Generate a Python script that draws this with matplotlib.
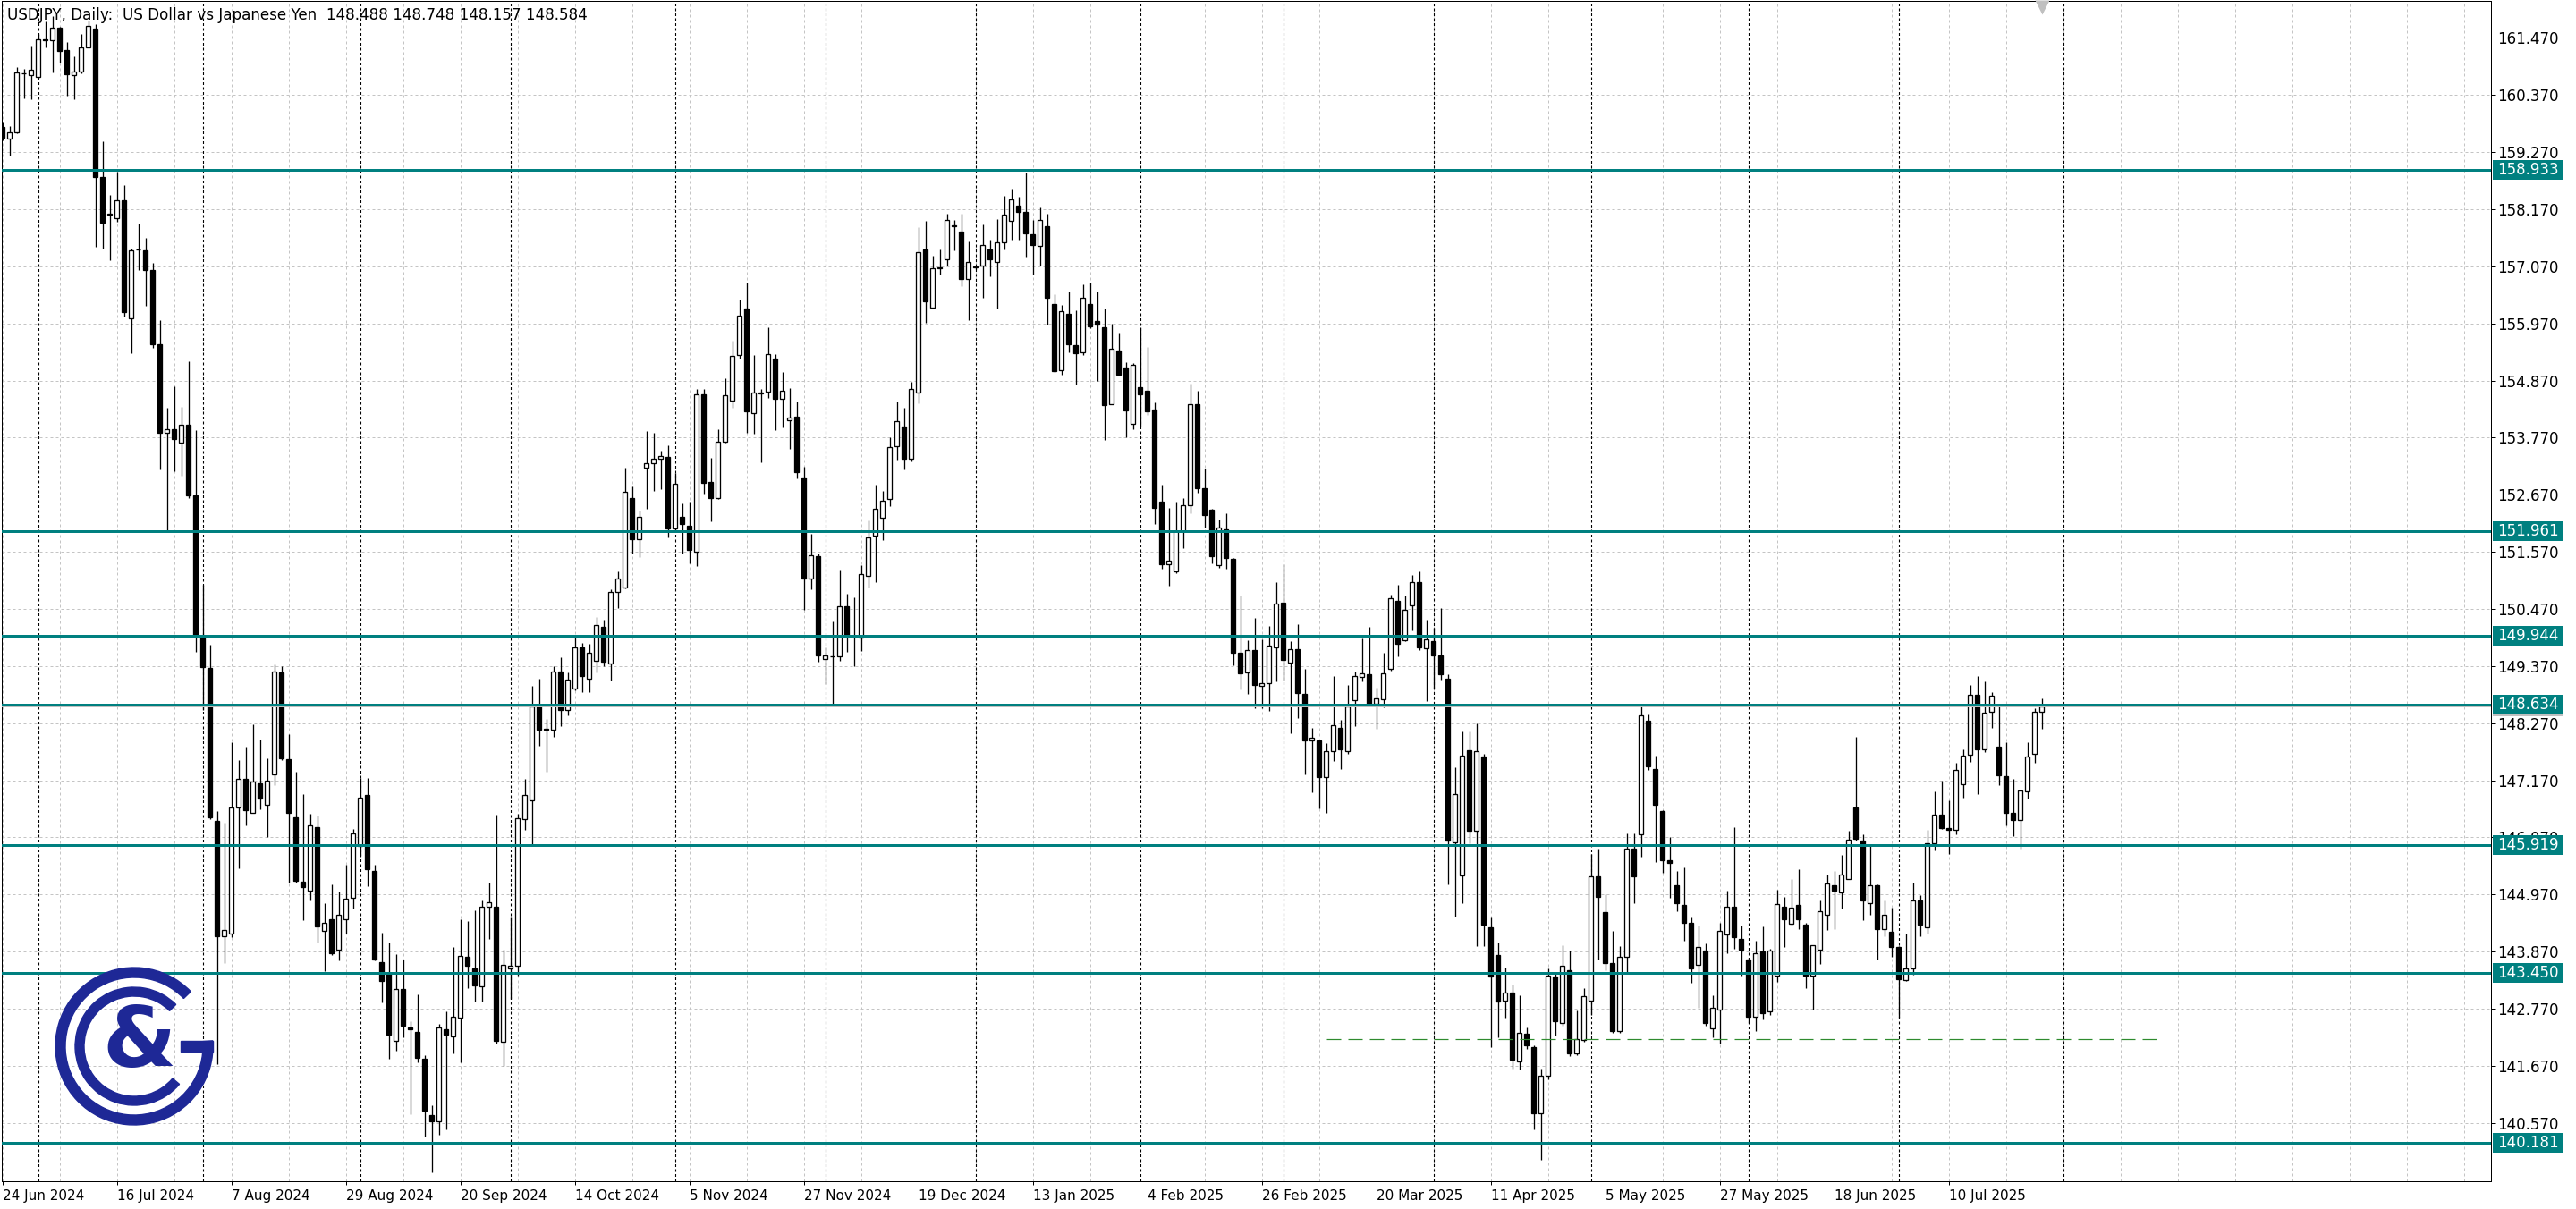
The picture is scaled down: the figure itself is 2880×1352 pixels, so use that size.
#!/usr/bin/env python3
"""
USDJPY daily candles, Jun 2024 - Jul 2025, drawn in the style of a
MetaTrader chart window (right price scale, teal S/R levels, logo).
Writes out.png at 2880x1352.
"""

import numpy as np
import matplotlib
matplotlib.use("Agg")
import matplotlib.pyplot as plt
from matplotlib.patches import Rectangle, Wedge
from matplotlib.transforms import blended_transform_factory

# ---- values (bar 0 = 24 Jun 2024) ----
opens = [
    159.76, 159.53, 159.65, 160.78, 160.76, 160.72, 161.44, 161.43, 161.66, 161.23,
    160.76, 160.82, 161.29, 161.65, 158.79, 158.07, 157.99, 158.35, 156.07, 157.39,
    157.37, 156.99, 155.57, 153.87, 153.94, 153.67, 154.01, 152.66, 149.95, 149.34,
    146.39, 144.17, 144.22, 146.64, 147.20, 146.55, 147.11, 146.70, 147.28, 149.24,
    147.57, 146.46, 145.22, 145.05, 146.26, 144.26, 144.50, 143.90, 144.50, 144.90,
    145.90, 146.89, 145.43, 143.67, 143.45, 142.15, 143.14, 142.40, 142.32, 141.80,
    140.72, 140.59, 142.38, 142.24, 142.60, 143.76, 143.55, 143.20, 144.73, 144.74,
    142.13, 143.55, 143.60, 146.42, 146.78, 148.60, 148.16, 148.15, 149.26, 148.53,
    148.93, 149.72, 149.13, 149.47, 150.12, 149.42, 150.80, 150.89, 152.60, 151.82,
    153.19, 153.27, 153.36, 153.40, 152.02, 152.25, 152.07, 151.58, 154.60, 152.91,
    152.61, 153.69, 154.49, 155.37, 156.26, 154.24, 154.63, 154.65, 155.30, 154.52,
    154.11, 154.18, 153.01, 151.05, 151.49, 149.51, 149.56, 149.56, 150.52, 149.94,
    149.91, 151.10, 151.89, 152.23, 152.58, 153.60, 153.99, 153.36, 154.63, 157.39,
    156.28, 157.04, 157.20, 157.85, 157.74, 156.82, 157.05, 157.09, 157.39, 157.16,
    157.53, 157.94, 158.23, 158.11, 157.69, 157.46, 157.84, 156.35, 155.07, 156.16,
    155.55, 155.42, 156.35, 156.02, 155.90, 154.42, 155.44, 155.12, 154.03, 154.74,
    154.67, 154.31, 152.53, 151.33, 151.19, 151.96, 152.47, 154.42, 152.79, 152.38,
    151.31, 152.01, 151.43, 149.62, 149.25, 149.67, 148.99, 149.04, 149.73, 150.59,
    149.44, 149.70, 148.83, 147.93, 147.93, 147.23, 147.73, 148.17, 147.73, 148.71,
    149.16, 149.21, 148.65, 148.73, 149.31, 150.62, 149.86, 150.54, 150.99, 149.71,
    149.85, 149.57, 149.12, 145.98, 145.33, 147.75, 146.19, 147.63, 144.34, 143.80,
    142.93, 143.08, 141.75, 142.29, 142.02, 140.75, 141.47, 143.39, 142.50, 143.51,
    141.90, 142.16, 142.92, 145.32, 144.63, 143.64, 142.33, 143.76, 145.86, 146.12,
    148.32, 147.39, 146.57, 145.62, 145.15, 144.76, 144.43, 143.61, 143.89, 142.39,
    142.76, 144.20, 144.74, 144.11, 143.72, 142.61, 143.87, 142.71, 143.40, 144.74,
    144.40, 144.76, 144.39, 143.41, 143.91, 144.57, 145.15, 145.00, 145.27, 146.65,
    146.01, 144.80, 145.14, 144.30, 144.25, 143.95, 143.32, 143.54, 144.86, 144.33,
    145.96, 146.51, 146.25, 146.21, 147.09, 147.66, 148.81, 147.76, 148.49, 147.82,
    147.24, 146.54, 146.40, 146.96, 147.67, 148.488,
]
highs = [
    159.85, 159.78, 160.90, 160.88, 161.32, 161.55, 161.78, 161.89, 161.68, 161.39,
    161.12, 161.55, 161.81, 161.74, 159.48, 158.44, 158.89, 158.63, 157.41, 157.89,
    157.62, 157.13, 156.03, 154.34, 154.76, 154.37, 155.24, 153.92, 150.93, 149.78,
    146.57, 146.36, 147.90, 147.55, 147.82, 148.24, 147.95, 147.59, 149.40, 149.36,
    148.05, 147.34, 146.90, 146.53, 146.49, 144.80, 145.17, 145.03, 145.55, 146.24,
    147.22, 147.22, 145.55, 144.24, 144.05, 143.82, 143.72, 142.53, 143.05, 141.88,
    140.90, 142.47, 142.72, 143.95, 144.50, 144.45, 144.67, 144.86, 145.19, 146.50,
    143.90, 144.53, 146.52, 147.20, 148.98, 149.13, 148.35, 149.36, 149.54, 149.25,
    149.96, 149.82, 149.80, 150.31, 150.27, 150.85, 151.19, 153.19, 152.83, 152.36,
    153.90, 153.87, 153.52, 153.62, 153.09, 152.51, 152.54, 154.70, 154.70, 153.38,
    153.93, 154.92, 155.63, 156.43, 156.75, 155.36, 154.70, 155.89, 155.38, 155.03,
    154.72, 154.47, 153.20, 151.91, 151.53, 149.73, 150.22, 151.23, 150.76, 150.70,
    151.32, 152.18, 152.87, 152.74, 153.78, 154.47, 154.34, 154.85, 157.83, 157.95,
    157.27, 157.39, 158.09, 157.97, 158.08, 157.55, 157.08, 157.87, 157.58, 157.98,
    158.43, 158.57, 158.41, 158.88, 157.97, 158.20, 158.09, 156.53, 156.32, 156.59,
    156.23, 156.73, 156.76, 156.59, 156.25, 155.97, 155.79, 155.23, 155.21, 155.90,
    155.51, 154.45, 152.87, 152.42, 152.54, 152.61, 154.81, 154.67, 153.17, 152.40,
    152.19, 152.31, 151.45, 150.73, 149.87, 150.29, 149.88, 150.15, 150.98, 151.33,
    149.85, 150.17, 149.31, 148.17, 147.96, 147.88, 149.17, 148.34, 149.00, 149.26,
    149.90, 150.13, 148.96, 149.63, 150.75, 150.93, 150.73, 151.13, 151.19, 150.26,
    150.11, 150.48, 149.21, 147.42, 148.11, 148.11, 148.26, 147.67, 144.52, 144.04,
    143.56, 143.23, 143.03, 142.41, 142.06, 141.62, 143.54, 143.48, 144.00, 143.88,
    142.74, 143.17, 145.75, 145.86, 144.97, 144.26, 143.97, 146.15, 146.15, 148.60,
    148.43, 147.64, 146.60, 146.07, 145.42, 145.49, 144.53, 144.37, 144.03, 143.03,
    144.43, 145.04, 146.27, 144.37, 143.75, 144.07, 144.35, 143.92, 145.06, 144.93,
    145.27, 145.45, 144.42, 144.00, 144.86, 145.35, 145.43, 145.73, 146.19, 148.01,
    146.13, 145.92, 145.16, 144.86, 144.71, 143.97, 144.22, 145.20, 144.95, 146.21,
    146.96, 147.16, 146.78, 147.50, 147.76, 149.00, 149.18, 149.08, 148.87, 148.64,
    147.91, 147.20, 146.99, 147.91, 148.56, 148.748,
]
lows = [
    159.50, 159.21, 159.63, 160.30, 160.28, 160.71, 161.29, 160.80, 160.99, 160.36,
    160.28, 160.78, 161.28, 157.45, 157.41, 157.18, 157.93, 156.11, 155.39, 156.99,
    156.31, 155.50, 153.16, 151.98, 153.12, 153.04, 152.60, 149.64, 148.53, 146.42,
    141.70, 143.64, 144.15, 145.47, 146.30, 146.55, 146.61, 146.07, 147.07, 147.55,
    145.20, 145.20, 144.47, 144.86, 144.05, 143.49, 143.80, 143.70, 144.22, 144.70,
    145.72, 145.13, 143.70, 142.89, 141.80, 141.96, 142.22, 140.74, 141.74, 140.30,
    139.61, 140.34, 140.45, 141.90, 141.74, 143.17, 142.90, 142.90, 144.11, 142.09,
    141.67, 142.95, 143.40, 146.22, 145.91, 147.84, 147.33, 148.00, 148.22, 148.42,
    148.91, 148.86, 148.86, 149.24, 149.36, 149.09, 150.49, 150.87, 151.53, 151.47,
    152.40, 152.74, 152.78, 151.84, 151.98, 151.53, 151.34, 151.29, 152.69, 152.15,
    152.58, 153.67, 154.34, 155.30, 153.87, 153.85, 153.29, 154.54, 153.92, 153.96,
    153.56, 152.98, 150.45, 150.85, 149.45, 149.02, 148.62, 149.47, 149.64, 149.36,
    149.66, 150.89, 150.98, 151.80, 152.45, 153.34, 153.16, 153.31, 154.43, 155.98,
    156.25, 156.92, 157.09, 157.37, 156.68, 156.04, 157.02, 156.46, 156.88, 156.25,
    157.39, 157.58, 157.58, 157.25, 156.92, 157.08, 155.95, 155.03, 154.98, 155.42,
    154.79, 155.37, 155.88, 154.86, 153.72, 154.41, 154.97, 153.77, 153.93, 153.98,
    154.20, 152.10, 151.24, 150.92, 151.16, 151.64, 152.31, 152.70, 152.03, 151.34,
    151.26, 151.24, 149.39, 148.92, 148.83, 148.55, 148.55, 148.50, 149.08, 149.09,
    148.08, 148.37, 147.29, 146.93, 146.62, 146.54, 147.54, 147.39, 147.67, 148.21,
    149.08, 148.62, 148.16, 148.57, 149.28, 149.56, 149.85, 150.06, 149.67, 148.70,
    148.93, 149.10, 145.17, 144.54, 144.80, 145.96, 143.98, 143.98, 142.03, 142.21,
    142.60, 141.62, 141.60, 142.00, 140.44, 139.85, 141.41, 142.25, 142.45, 141.85,
    141.87, 142.13, 142.65, 143.71, 143.51, 142.30, 142.30, 143.48, 144.80, 145.69,
    147.36, 145.59, 145.39, 144.90, 144.64, 144.07, 143.26, 142.78, 142.45, 142.21,
    142.09, 143.84, 143.93, 143.41, 142.49, 142.34, 142.57, 142.65, 143.28, 143.95,
    144.39, 144.30, 143.16, 142.76, 143.63, 144.29, 144.31, 144.70, 145.26, 146.00,
    144.47, 144.58, 143.72, 144.16, 143.76, 142.59, 143.30, 143.42, 144.16, 144.22,
    145.82, 146.24, 145.75, 146.12, 146.84, 147.53, 146.90, 147.72, 148.18, 147.07,
    146.30, 146.09, 145.86, 146.81, 147.50, 148.157,
]
closes = [
    159.55, 159.65, 160.80, 160.79, 160.86, 161.45, 161.42, 161.66, 161.22, 160.77,
    160.82, 161.29, 161.70, 158.79, 157.91, 158.08, 158.35, 156.18, 157.37, 157.40,
    156.99, 155.57, 153.87, 153.94, 153.75, 154.01, 152.66, 149.97, 149.35, 146.46,
    144.17, 144.28, 146.65, 147.20, 146.59, 147.15, 146.82, 147.17, 149.26, 147.59,
    146.55, 145.24, 145.11, 146.30, 144.36, 144.42, 143.84, 144.57, 144.89, 146.14,
    146.84, 145.45, 143.72, 143.30, 142.27, 143.15, 142.44, 142.37, 141.82, 140.80,
    140.60, 142.40, 142.27, 142.61, 143.78, 143.59, 143.22, 144.74, 144.82, 142.15,
    143.61, 143.60, 146.44, 146.89, 148.60, 148.15, 148.15, 149.27, 148.53, 149.11,
    149.72, 149.17, 149.62, 150.16, 149.45, 150.80, 151.05, 152.73, 151.82, 152.25,
    153.28, 153.36, 153.41, 152.02, 152.88, 152.11, 151.60, 154.61, 152.89, 152.61,
    153.69, 154.58, 155.34, 156.12, 154.27, 154.63, 154.62, 155.38, 154.52, 154.67,
    154.16, 153.10, 151.05, 151.51, 149.57, 149.57, 149.55, 150.52, 149.94, 149.95,
    151.14, 151.85, 152.39, 152.56, 153.58, 154.08, 153.36, 154.70, 157.34, 156.39,
    157.04, 157.05, 157.97, 157.86, 156.82, 157.16, 157.05, 157.48, 157.20, 157.53,
    158.06, 158.36, 158.11, 157.71, 157.48, 157.97, 156.46, 155.05, 156.21, 155.57,
    155.39, 156.46, 155.91, 155.95, 154.40, 155.48, 154.99, 154.29, 155.18, 154.60,
    154.27, 152.42, 151.33, 151.40, 151.97, 152.47, 154.42, 152.79, 152.28, 151.48,
    152.03, 151.45, 149.62, 149.23, 149.67, 149.00, 149.04, 149.77, 150.57, 149.48,
    149.70, 148.85, 147.94, 147.98, 147.23, 147.73, 148.23, 147.77, 148.60, 149.17,
    149.23, 148.63, 148.75, 149.23, 150.67, 149.79, 150.46, 150.99, 149.73, 149.88,
    149.57, 149.21, 146.00, 146.90, 147.65, 146.19, 147.73, 144.39, 143.39, 142.91,
    143.08, 141.79, 142.31, 142.06, 140.75, 141.47, 143.40, 142.53, 143.60, 141.90,
    142.19, 143.01, 145.32, 144.92, 143.64, 142.33, 143.76, 145.86, 145.31, 148.42,
    147.44, 146.70, 145.62, 145.58, 144.81, 144.43, 143.55, 143.95, 142.49, 142.78,
    144.27, 144.74, 144.14, 143.91, 142.61, 143.83, 142.68, 143.89, 144.79, 144.49,
    144.71, 144.49, 143.41, 143.99, 144.64, 145.18, 145.04, 145.36, 146.02, 146.04,
    144.86, 145.14, 144.31, 144.57, 143.95, 143.34, 143.54, 144.86, 144.39, 145.96,
    146.51, 146.25, 146.21, 147.37, 147.64, 148.82, 147.76, 148.47, 148.79, 147.26,
    146.54, 146.40, 146.97, 147.63, 148.48, 148.584,
]

date_labels = [
    "24 Jun 2024", "16 Jul 2024", "7 Aug 2024", "29 Aug 2024", "20 Sep 2024",
    "14 Oct 2024", "5 Nov 2024", "27 Nov 2024", "19 Dec 2024", "13 Jan 2025",
    "4 Feb 2025", "26 Feb 2025", "20 Mar 2025", "11 Apr 2025", "5 May 2025",
    "27 May 2025", "18 Jun 2025", "10 Jul 2025",
]
price_ticks = [
    140.570, 141.670, 142.770, 143.870, 144.970, 146.070, 147.170, 148.270,
    149.370, 150.470, 151.570, 152.670, 153.770, 154.870, 155.970, 157.070,
    158.170, 159.270, 160.370, 161.470,
]
levels = [158.933, 151.961, 149.944, 148.634, 145.919, 143.450, 140.181]
bid_price = 148.584
support_price = 142.19
support_bars = (185, 301)
# first bar of each month (period separators)
month_starts = [5, 28, 50, 71, 94, 115, 136, 159, 179, 200, 222, 244, 265, 288]

title = "USDJPY, Daily:  US Dollar vs Japanese Yen  148.488 148.748 148.157 148.584"

TEAL = "#008080"
NAVY = "#1e2896"
GRID = "#c4c4c4"

W, H, DPI = 2880, 1352, 100
PX = 72 / DPI          # one pixel in points
BAR_PX = 8.0           # pixels per bar
PRICE_PX = 58.05       # pixels per 1.000 of price
SCALE_FS = 12          # price scale / tag text size

plt.rcParams["font.family"] = ["DejaVu Sans"]
plt.rcParams["lines.scale_dashes"] = False

fig = plt.figure(figsize=(W / DPI, H / DPI), dpi=DPI)
fig.patch.set_facecolor("white")

# plot frame in pixels (from top-left of the picture)
left, right, top, bottom = 2, 2785, 1, 1321
ax = fig.add_axes([left / W, 1 - bottom / H, (right - left) / W, (bottom - top) / H])
ax.set_xlim((left - 2.7) / BAR_PX, (right - 2.7) / BAR_PX)
ax.set_ylim(161.47 - (bottom - 42.4) / PRICE_PX, 161.47 + (42.4 - top) / PRICE_PX)
ax.set_facecolor("white")

# grid
grid_ls = (0, (3 * PX, 3 * PX))
for p in price_ticks:
    ax.axhline(p, color=GRID, lw=PX, ls=grid_ls, zorder=0)
for i in range(0, int(ax.get_xlim()[1]) + 1, 8):
    ax.axvline(i, color=GRID, lw=PX, ls=grid_ls, zorder=0)
for i in month_starts:
    ax.axvline(i, color="black", lw=1.1 * PX, ls=(0, (3 * PX, 2.5 * PX)), zorder=0.5)

# candles
o = np.asarray(opens)
hi = np.asarray(highs)
lo = np.asarray(lows)
c = np.asarray(closes)
x = np.arange(len(c))
up = c >= o
body = np.maximum(np.abs(c - o), 0.01)

ax.vlines(x, lo, hi, color="black", lw=1.3 * PX, zorder=2)
ax.bar(x[up], body[up], bottom=o[up], width=0.6, color="white",
       edgecolor="black", linewidth=1.3 * PX, zorder=3)
ax.bar(x[~up], body[~up], bottom=c[~up], width=0.6, color="black",
       edgecolor="black", linewidth=1.3 * PX, zorder=3)

# horizontal levels, bid line, dashed support
ax.axhline(bid_price, color="#c0c0c0", lw=PX, zorder=3.5)
for lv in levels:
    ax.axhline(lv, color=TEAL, lw=3 * PX, zorder=4)
ax.hlines(support_price, *support_bars, colors="#2e8b2e", lw=1.2 * PX,
          linestyles=(0, (16 * PX, 8 * PX)), zorder=4)

# chart-shift marker above the last bar
ax.plot([len(c) - 1], [ax.get_ylim()[1] - 7 / PRICE_PX], marker="v", ms=11,
        color="#c0c0c0", mec="none", clip_on=False, zorder=6)

# right price scale
ax.yaxis.tick_right()
ax.set_yticks(price_ticks, [f"{p:.3f}" for p in price_ticks])
ax.tick_params(axis="y", length=4 * PX, width=PX, pad=3 * PX, labelsize=SCALE_FS,
               colors="black")

# date scale
ax.set_xticks(np.arange(len(date_labels)) * 16, date_labels, ha="left")
ax.tick_params(axis="x", length=4 * PX, width=PX, pad=5 * PX, labelsize=11)

for s in ax.spines.values():
    s.set_linewidth(PX)
    s.set_color("black")

# price tags on the scale
trans = blended_transform_factory(ax.transAxes, ax.transData)
ax_w = right - left
box_x = (2787 - left) / ax_w
box_w = 78 / ax_w
box_h = 22 / PRICE_PX


def tag(price, face, text=None, z=6):
    ax.add_patch(Rectangle((box_x, price - box_h / 2), box_w, box_h, transform=trans,
                           fc=face, ec="none", clip_on=False, zorder=z))
    if text:
        ax.text(box_x + 5 / ax_w, price, text, transform=trans, color="white",
                fontsize=SCALE_FS, ha="left", va="center", clip_on=False,
                zorder=z + 0.1)


tag(bid_price, "#c0c0c0", z=5)
for lv in levels:
    tag(lv, TEAL, f"{lv:.3f}")

# title
fig.text(8 / W, 1 - 17 / H, title, fontsize=12.1, ha="left", va="center", zorder=10)

# logo
lax = fig.add_axes([50 / W, 1 - 1270 / H, 200 / W, 200 / H])
lax.set_xlim(-100, 100)
lax.set_ylim(-100, 100)
lax.axis("off")
lax.add_patch(Wedge((0, 0), 88, 44, 4, width=11, color=NAVY))
lax.add_patch(Rectangle((52, -6), 36, 12, color=NAVY))
lax.add_patch(Wedge((0, 0), 66, 45, 320, width=10, color=NAVY))
lax.text(6, 3, "&", fontsize=68, fontweight="bold", color=NAVY,
         ha="center", va="center")

fig.savefig("out.png", dpi=DPI, facecolor="white")
